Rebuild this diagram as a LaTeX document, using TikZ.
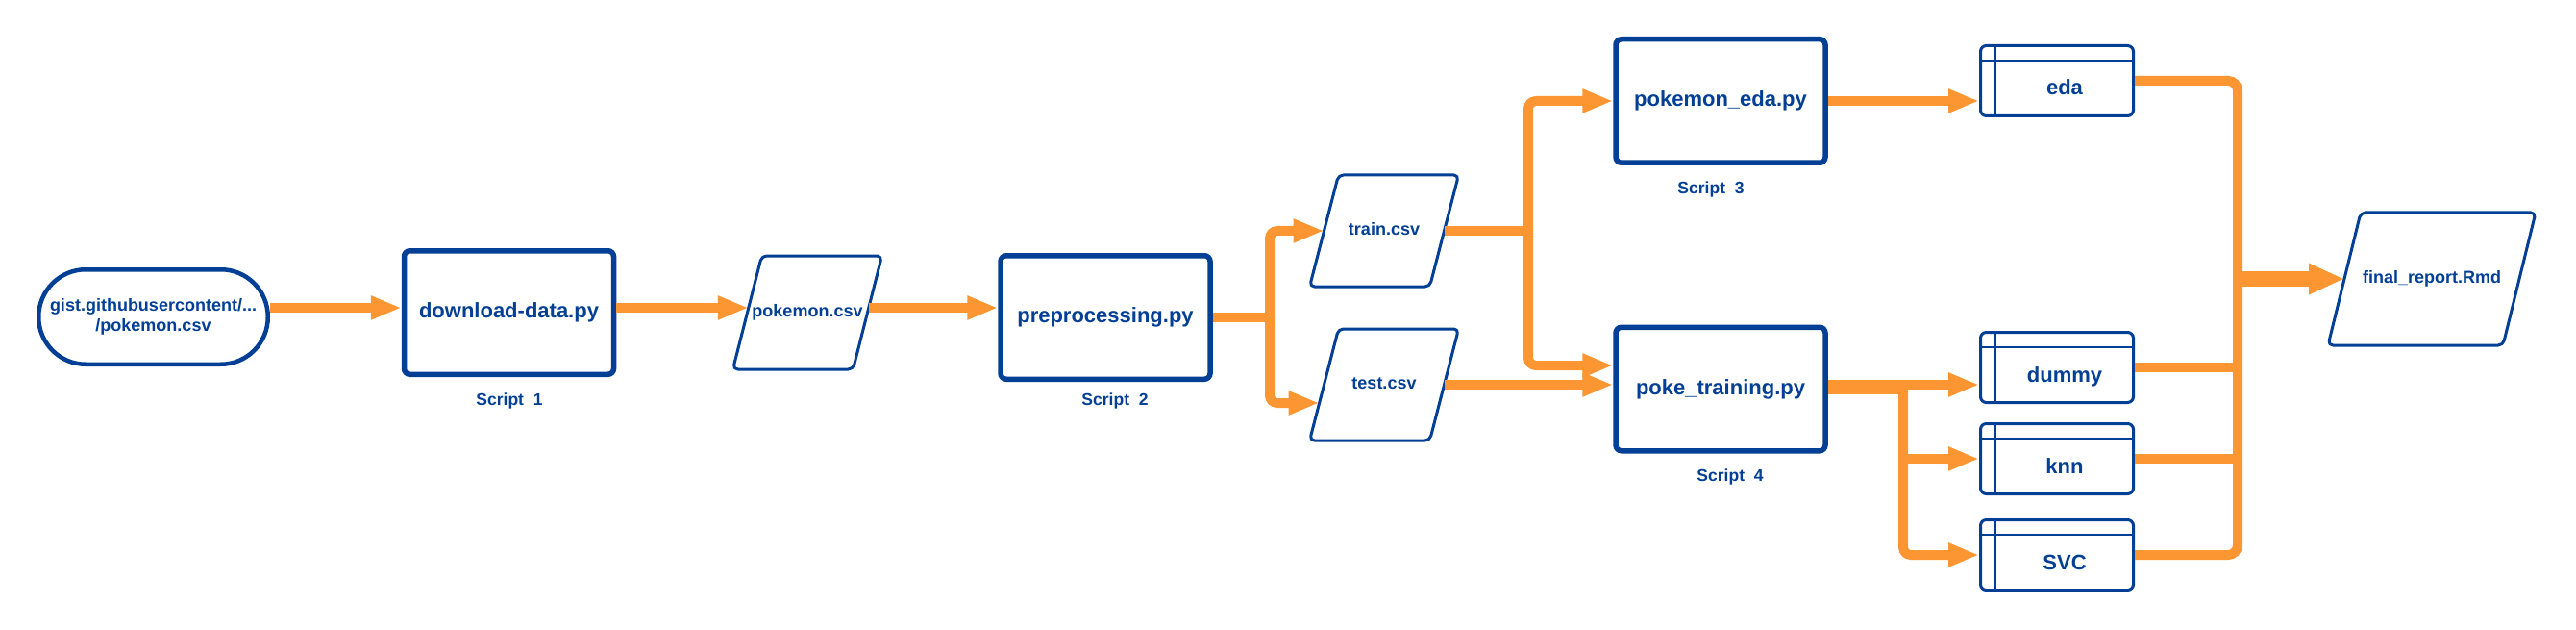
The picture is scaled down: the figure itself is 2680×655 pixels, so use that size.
\documentclass[tikz,border=0pt]{standalone}
\usepackage{fontspec}
\setmainfont{Liberation Sans}
\usetikzlibrary{arrows.meta,calc}
\definecolor{dblue}{RGB}{3,64,149}
\definecolor{orng}{RGB}{252,150,50}
\newcommand{\pgramdraw}[2]{\draw[pgline] ([xshift=#2]#1.north west) -- (#1.north east) -- ([xshift=-#2]#1.south east) -- (#1.south west) -- cycle;}
\newcommand{\tblgrid}[1]{\draw[tline] ([yshift=-17pt]#1.north west) -- ([yshift=-17pt]#1.north east); \draw[tline] ([xshift=17pt]#1.north west) -- ([xshift=17pt]#1.south west);}
\begin{document}
\begin{tikzpicture}[x=1pt,y=-1pt,
  pill/.style={draw=dblue, line width=4.5pt, rounded corners=49pt, minimum width=238.5pt, minimum height=98.5pt, inner sep=0pt, align=center, text=dblue, font=\fontsize{18}{21}\selectfont\bfseries},
  scriptbox/.style={draw=dblue, line width=5.5pt, rounded corners=6pt, minimum width=218pt, minimum height=128.5pt, inner sep=0pt, text=dblue, font=\fontsize{22}{26}\selectfont\bfseries, text height=16pt, text depth=5pt},
  scriptlbl/.style={text=dblue, font=\fontsize{17.5}{20}\selectfont\bfseries, inner sep=0pt},
  pgram/.style={minimum width=155pt, minimum height=116pt, inner sep=0pt, outer sep=0pt, text=dblue, font=\fontsize{18}{21}\selectfont\bfseries, text height=13pt, text depth=4pt},
  pgline/.style={draw=dblue, line width=3pt, rounded corners=5pt, line join=round},
  tbl/.style={draw=dblue, line width=3pt, rounded corners=6pt, minimum width=159pt, minimum height=73pt, inner sep=0pt},
  tline/.style={draw=dblue, line width=2.5pt},
  tbltext/.style={text=dblue, font=\fontsize{22}{26}\selectfont\bfseries, anchor=base, inner sep=0pt},
  conn/.style={draw=orng, line width=10pt},
  conarr/.style={conn, -{Triangle[length=32pt,width=23pt]}},
  bigarr/.style={draw=orng, line width=16pt, -{Triangle[length=37pt,width=30pt]}}
]
\useasboundingbox[fill=white] (0,0) rectangle (2680,655);

% nodes
\node[pill] (src) at (159.5,329.5) {gist.githubusercontent/...\\/pokemon.csv};
\node[scriptbox] (dl) at (529.5,325) {download-data.py};
\node[scriptlbl] (lbl1) at (530,417) {Script\ \ 1};
\node[pgram, minimum height=118pt] (pcsv) at (840,325) {pokemon.csv};
\pgramdraw{pcsv}{30pt}
\node[scriptbox] (pre) at (1150,330) {preprocessing.py};
\node[scriptlbl] (lbl2) at (1160,417) {Script\ \ 2};
\node[pgram] (train) at (1440,240) {train.csv};
\pgramdraw{train}{30pt}
\node[pgram] (test) at (1440,400) {test.csv};
\pgramdraw{test}{30pt}
\node[scriptbox] (edapy) at (1790,105) {pokemon\_eda.py};
\node[scriptlbl] (lbl3) at (1780,197) {Script\ \ 3};
\node[scriptbox] (ptrain) at (1790,404.5) {poke\_training.py};
\node[scriptlbl] (lbl4) at (1800,496) {Script\ \ 4};
\node[tbl] (eda) at (2140,84) {};
\tblgrid{eda}
\node[tbltext] (edat) at ([xshift=8pt,yshift=-15pt]eda.center) {eda};
\node[tbl] (dummy) at (2140,382) {};
\tblgrid{dummy}
\node[tbltext] (dummyt) at ([xshift=8pt,yshift=-15pt]dummy.center) {dummy};
\node[tbl] (knn) at (2140,477) {};
\tblgrid{knn}
\node[tbltext] (knnt) at ([xshift=8pt,yshift=-15pt]knn.center) {knn};
\node[tbl] (svc) at (2140,577) {};
\tblgrid{svc}
\node[tbltext] (svct) at ([xshift=8pt,yshift=-15pt]svc.center) {SVC};
\node[pgram, minimum width=216pt, minimum height=138pt] (final) at (2530,290) {final\_report.Rmd};
\pgramdraw{final}{34pt}

% junction coordinates
\coordinate (s1) at (1321,330);
\coordinate (s2) at (1590,240);
\coordinate (s3) at (1980,404.5);
\coordinate (bus) at (2328,290);
\coordinate (testR) at ([xshift=-15pt]test.east);
\coordinate (t1) at ([yshift=4.5pt]ptrain.east);

% connectors
\draw[conarr] ([yshift=9.5pt]src.east) -- ([yshift=5pt]dl.west);
\draw[conarr] ([yshift=5pt]dl.east) -- ([xshift=16.3pt,yshift=5pt]pcsv.west);
\draw[conarr] ([xshift=-13.7pt,yshift=5pt]pcsv.east) -- ([yshift=10pt]pre.west);
\draw[conn] (pre.east) -- (s1);
\draw[conarr, rounded corners=8pt] (s1) |- ([xshift=15pt]train.west);
\draw[conarr, rounded corners=8pt] (s1) |- ([xshift=10.1pt,yshift=-19pt]test.west);
\draw[conn] ([xshift=-15pt]train.east) -- (s2);
\draw[conarr, rounded corners=8pt] (s2) |- (edapy.west);
\draw[conarr, rounded corners=8pt] (s2) |- ([yshift=24.5pt]ptrain.west);
\draw[conarr] (testR) -- (testR -| ptrain.west);
\draw[conarr] (edapy.east) -- (edapy.east -| eda.west);
\draw[conarr] (t1) -- (t1 -| dummy.west);
\draw[conn] (ptrain.east) -- (s3);
\draw[conarr, rounded corners=8pt] (s3) |- (svc.west);
\draw[conarr] (s3 |- knn.west) -- (knn.west);
\draw[conn, rounded corners=10pt] (eda.east) -| (bus);
\draw[conn, rounded corners=10pt] (svc.east) -| (bus);
\draw[conn] (dummy.east) -- (dummy.east -| bus);
\draw[conn] (knn.east) -- (knn.east -| bus);
\draw[bigarr] (bus) -- ([xshift=17pt]final.west);
\end{tikzpicture}
\end{document}
